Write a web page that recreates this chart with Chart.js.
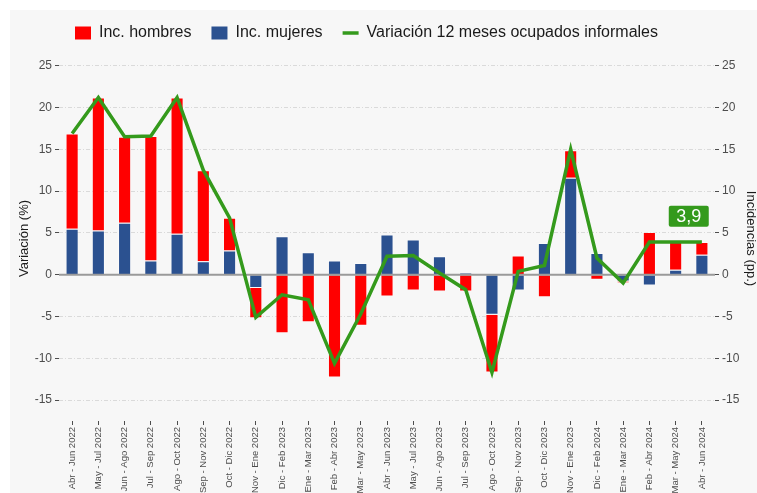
<!DOCTYPE html>
<html>
<head>
<meta charset="utf-8">
<script src="https://cdn.jsdelivr.net/npm/chart.js@4.4.1/dist/chart.umd.min.js"></script>
<style>
  html, body { margin: 0; padding: 0; background: #fff; }
  #wrap { position: absolute; left: 10px; top: 10px; width: 747px; height: 483px; background: #f7f7f7; }
</style>
</head>
<body>
<div id="wrap"><canvas id="chart" width="747" height="483"></canvas></div>
<script>
const periods = [
  "Abr - Jun 2022", "May - Jul 2022", "Jun - Ago 2022", "Jul - Sep 2022", "Ago - Oct 2022",
  "Sep - Nov 2022", "Oct - Dic 2022", "Nov - Ene 2022", "Dic - Feb 2023", "Ene - Mar 2023",
  "Feb - Abr 2023", "Mar - May 2023", "Abr - Jun 2023", "May - Jul 2023", "Jun - Ago 2023",
  "Jul - Sep 2023", "Ago - Oct 2023", "Sep - Nov 2023", "Oct - Dic 2023", "Nov - Ene 2023",
  "Dic - Feb 2024", "Ene - Mar 2024", "Feb - Abr 2024", "Mar - May 2024", "Abr - Jun 2024"
];
const incHombres = [11.4, 15.9, 10.3, 14.9, 16.3, 10.9, 3.9, -3.6, -7.0, -5.7, -12.3, -6.1, -2.6,
  -1.9, -2.0, -2.0, -6.9, 2.3, -2.7, 3.3, -0.6, -0.2, 5.1, 3.3, 1.5];
const incMujeres = [5.5, 5.3, 6.2, 1.7, 4.9, 1.6, 2.9, -1.6, 4.6, 2.7, 1.7, 1.4, 4.8,
  4.2, 2.2, 0.2, -4.8, -1.9, 3.8, 11.6, 2.6, -0.8, -1.3, 0.6, 2.4];
const variacion = [16.9, 21.2, 16.5, 16.6, 21.2, 12.5, 6.8, -5.1, -2.4, -3.0, -10.6, -4.7, 2.2,
  2.3, 0.2, -1.8, -11.7, 0.4, 1.1, 15.0, 2.0, -1.0, 3.9, 3.9, 3.9];
const yTicks = [-15, -10, -5, 0, 5, 10, 15, 20, 25];
const lastText = "3,9";
const lastLabelAt = [23.5, 7.0]; // category index, value

const green = "#349a1c";
Chart.defaults.font.family = "'Liberation Sans', Arial, sans-serif";

// zero line over the bars, under the green line
const zeroLine = {
  id: "zeroLine",
  beforeDatasetDraw(chart, args) {
    if (args.index !== 2) return;
    const { ctx, chartArea } = chart;
    const y = chart.scales.y.getPixelForValue(0);
    ctx.save();
    ctx.strokeStyle = "#9a9a9a";
    ctx.lineWidth = 2;
    ctx.beginPath();
    ctx.moveTo(chartArea.left, y);
    ctx.lineTo(chartArea.right, y);
    ctx.stroke();
    ctx.restore();
  }
};

const legendShift = {
  id: "legendShift",
  afterLayout(chart) {
    const lg = chart.legend;
    lg.left -= 17; lg.right -= 17;
    lg.top -= 5; lg.bottom -= 5;
  }
};

const lastValueLabel = {
  id: "lastValueLabel",
  afterDatasetsDraw(chart) {
    const { ctx } = chart;
    const cx = chart.scales.x.getPixelForValue(lastLabelAt[0]);
    const cy = chart.scales.y.getPixelForValue(lastLabelAt[1]);
    ctx.save();
    ctx.fillStyle = green;
    ctx.beginPath();
    ctx.roundRect(cx - 20, cy - 10.5, 40, 21, 2);
    ctx.fill();
    ctx.fillStyle = "#fff";
    ctx.font = "18px 'Liberation Sans', Arial, sans-serif";
    ctx.textAlign = "center";
    ctx.textBaseline = "middle";
    ctx.fillText(lastText, cx, cy + 1);
    ctx.restore();
  }
};

const yCommon = {
  min: -17.5,
  max: 26.16,
  afterBuildTicks: (scale) => { scale.ticks = yTicks.map(v => ({ value: v })); },
  border: { display: false, dash: [4, 2, 1, 2] },
  ticks: { color: "#4d4d4d", font: { size: 12 }, padding: 3 }
};

new Chart(document.getElementById("chart"), {
  data: {
    labels: periods,
    datasets: [
      {
        type: "bar",
        label: "Inc. mujeres",
        data: incMujeres,
        backgroundColor: "#2b5190",
        borderColor: "rgba(255,255,255,0.4)",
        borderWidth: 1,
        yAxisID: "y2",
        stack: "inc",
        order: 1,
        barPercentage: 0.5,
        categoryPercentage: 1
      },
      {
        type: "bar",
        label: "Inc. hombres",
        data: incHombres,
        backgroundColor: "#ff0000",
        borderColor: "rgba(255,255,255,0.4)",
        borderWidth: 1,
        yAxisID: "y2",
        stack: "inc",
        order: 1,
        barPercentage: 0.5,
        categoryPercentage: 1
      },
      {
        type: "line",
        label: "Variación 12 meses ocupados informales",
        data: variacion,
        borderColor: green,
        backgroundColor: green,
        borderWidth: 3.5,
        pointRadius: 0,
        tension: 0,
        yAxisID: "y",
        order: 0
      }
    ]
  },
  options: {
    responsive: false,
    animation: false,
    devicePixelRatio: 1,
    layout: { padding: 0 },
    plugins: {
      tooltip: { enabled: false },
      legend: {
        position: "top",
        labels: {
          color: "#1a1a1a",
          font: { size: 16 },
          padding: 20,
          usePointStyle: true,
          pointStyleWidth: 16,
          boxHeight: 13,
          generateLabels: (chart) => {
            const items = Chart.defaults.plugins.legend.labels.generateLabels(chart);
            return items.map(it => {
              const isLine = it.datasetIndex === 2;
              it.pointStyle = isLine ? "line" : "rect";
              it.lineWidth = isLine ? 3.5 : 0;
              it.strokeStyle = isLine ? green : it.fillStyle;
              return it;
            });
          },
          sort: (a, b) => {
            const rank = { 1: 0, 0: 1, 2: 2 };
            return rank[a.datasetIndex] - rank[b.datasetIndex];
          }
        }
      }
    },
    scales: {
      x: {
        offset: true,
        afterFit: (scale) => { scale.height = 72; },
        border: { display: false },
        grid: { drawOnChartArea: false, offset: false, tickLength: 4, tickColor: "#4d4d4d" },
        ticks: { color: "#4d4d4d", font: { size: 9.5 }, minRotation: 90, maxRotation: 90, autoSkip: false, padding: 2 }
      },
      y: {
        ...yCommon,
        position: "left",
        afterFit: (scale) => { scale.width = 49; },
        grid: { color: "#dadada", lineWidth: 1, tickLength: 4, tickColor: "#4d4d4d", tickBorderDash: [1, 0] },
        title: { display: true, text: "Variación (%)", color: "#1a1a1a", font: { size: 13, lineHeight: 1 }, padding: { top: 7.5, bottom: 0 } }
      },
      y2: {
        ...yCommon,
        position: "right",
        afterFit: (scale) => { scale.width = 42; },
        grid: { drawOnChartArea: false, tickLength: 4, tickColor: "#4d4d4d", tickBorderDash: [1, 0] },
        title: { display: true, text: "Incidencias (pp.)", color: "#1a1a1a", font: { size: 13, lineHeight: 1 }, padding: { top: 0, bottom: 0 } }
      }
    }
  },
  plugins: [zeroLine, legendShift, lastValueLabel]
});
</script>
</body>
</html>
